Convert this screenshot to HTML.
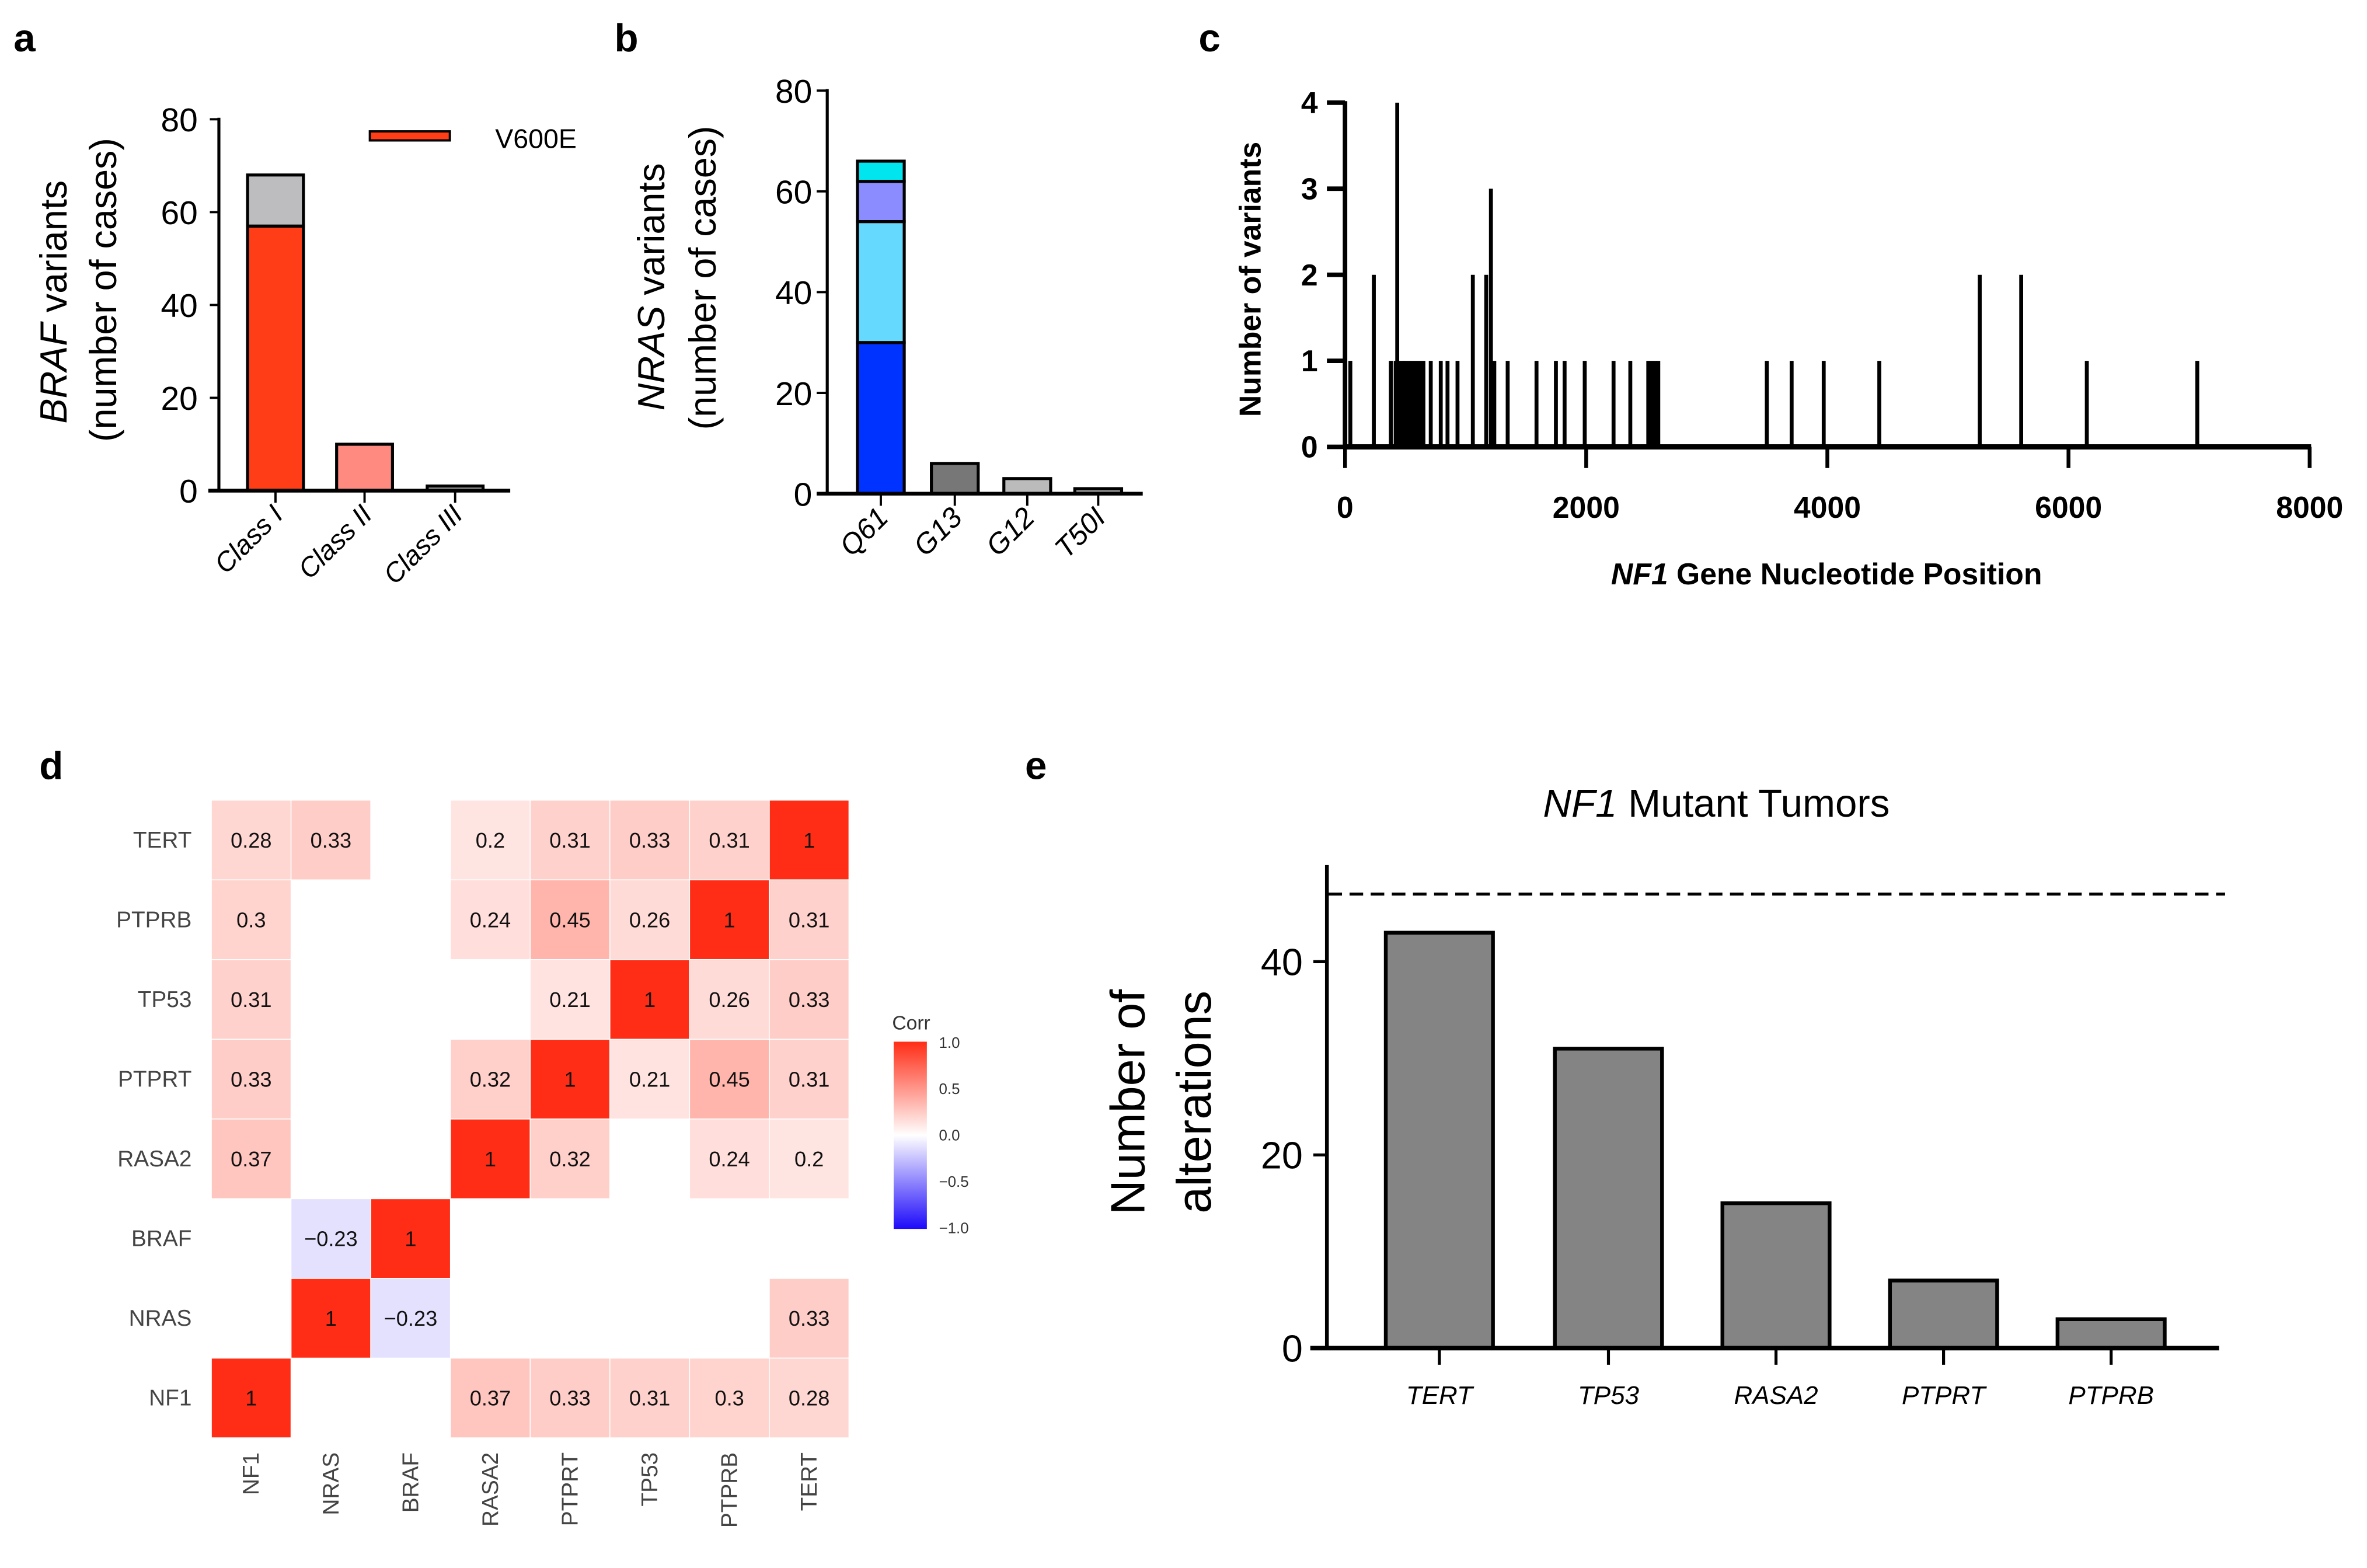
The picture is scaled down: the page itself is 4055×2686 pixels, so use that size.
<!DOCTYPE html>
<html><head><meta charset="utf-8"><style>
html,body{margin:0;padding:0;background:#fff;}
svg{display:block;font-family:"Liberation Sans",Arial,sans-serif;}
</style></head><body>
<svg id="fig" width="4055" height="2686" viewBox="0 0 1568 1038.6" xmlns="http://www.w3.org/2000/svg">
<rect width="1568" height="1039" fill="#fff"/>
<g font-weight="bold" font-size="26" fill="#000">
<text x="9" y="34">a</text>
<text x="407" y="34">b</text>
<text x="794" y="34">c</text>
<text x="26" y="516">d</text>
<text x="679" y="516">e</text>
</g>
<g id="pa"></g>
<g id="pb"></g>
<g id="pc"></g>
<g id="pd"></g>
<g id="pe"></g>
</svg>
<script>
// ---- Panel a data ----
const aCats = ["Class I","Class II","Class III"];
const aV600E = [57,0,0];
const aOther = [11,10,1];
const aTicks = [0,20,40,60,80];
// ---- Panel b data ----
const bCats = ["Q61","G13","G12","T50I"];
const bQ61Segs = [30,24,8,4];
const bOther = [0,6,3,1];
const bTicks = [0,20,40,60,80];
// ---- Panel c data ----
const cPositions = [44,239,380,420,433,450,480,500,530,560,590,620,650,711,794,850,933,1060,1171,1210,1238,1349,1588,1749,1821,1988,2227,2366,2515,2540,2570,2598,3498,3704,3970,4431,5264,5608,6152,7068];
const cCounts    = [1,2,1,1,4,1,1,1,1,1,1,1,1,1,1,1,1,2,2,3,1,1,1,1,1,1,1,1,1,1,1,1,1,1,1,1,2,2,1,1];
const cYTicks = [0,1,2,3,4];
const cXTicks = [0,2000,4000,6000,8000];
// ---- Panel d data ----
const dGenes = ["NF1","NRAS","BRAF","RASA2","PTPRT","TP53","PTPRB","TERT"];
const dRows = ["TERT","PTPRB","TP53","PTPRT","RASA2","BRAF","NRAS","NF1"];
const dMatrix = [
 [0.28,0.33,null,0.2,0.31,0.33,0.31,1],
 [0.3,null,null,0.24,0.45,0.26,1,0.31],
 [0.31,null,null,null,0.21,1,0.26,0.33],
 [0.33,null,null,0.32,1,0.21,0.45,0.31],
 [0.37,null,null,1,0.32,null,0.24,0.2],
 [null,-0.23,1,null,null,null,null,null],
 [null,1,-0.23,null,null,null,null,0.33],
 [1,null,null,0.37,0.33,0.31,0.3,0.28]
];
const dLegendTicks = ["1.0","0.5","0.0","\u22120.5","\u22121.0"];
// ---- Panel e data ----
const eCats = ["TERT","TP53","RASA2","PTPRT","PTPRB"];
const eVals = [43,31,15,7,3];
const eTicks = [0,20,40];
const eDashed = 47;

const NS="http://www.w3.org/2000/svg";
function mk(parent,tag,attrs,text){const e=document.createElementNS(NS,tag);for(const k in attrs)e.setAttribute(k,attrs[k]);if(text!==undefined)e.textContent=text;parent.appendChild(e);return e;}

// Panel a
(function(){
 const g=document.getElementById('pa');
 const y=v=>325-v*(246/80); const x0=145;
 const bx=[164,223,283], bw=37;
 aCats.forEach((c,i)=>{
  let base=0;
  if(aV600E[i]>0){const r=mk(g,'rect',{x:bx[i],y:y(aV600E[i]),width:bw,height:y(0)-y(aV600E[i]),fill:'#ff3d16',stroke:'#000','stroke-width':2});
   base=aV600E[i];}
  const fill=i===0?'#bdbdbf':(i===1?'#ff8a80':'#999');
  const r=mk(g,'rect',{x:bx[i],y:y(base+aOther[i]),width:bw,height:y(base)-y(base+aOther[i]),fill:fill,stroke:'#000','stroke-width':2});
  
  mk(g,'line',{x1:bx[i]+bw/2,x2:bx[i]+bw/2,y1:325,y2:333,stroke:'#000','stroke-width':1.5});
  const t=mk(g,'text',{x:bx[i]+bw/2+6,y:342,'font-size':18,'font-style':'italic','text-anchor':'end',transform:`rotate(-45 ${bx[i]+bw/2+6} 342)`},c);
  
 });
 mk(g,'line',{x1:x0,x2:x0,y1:78,y2:326,stroke:'#000','stroke-width':2});
 mk(g,'line',{x1:138,x2:338,y1:325,y2:325,stroke:'#000','stroke-width':2.5});
 aTicks.forEach(v=>{mk(g,'line',{x1:139,x2:x0,y1:y(v),y2:y(v),stroke:'#000','stroke-width':1.5});
  const t=mk(g,'text',{x:131,y:y(v)+8,'font-size':22,'text-anchor':'end'},v);});
 const yt=mk(g,'text',{transform:'translate(44,200) rotate(-90)','font-size':25,'text-anchor':'middle'});
 yt.innerHTML='<tspan font-style="italic">BRAF</tspan> variants';
 
 const yt2=mk(g,'text',{transform:'translate(77,192) rotate(-90)','font-size':25,'text-anchor':'middle'},'(number of cases)');
 
 const lg=mk(g,'rect',{x:245,y:87,width:53,height:6,fill:'#ff3d16',stroke:'#000','stroke-width':1.5});
 
 const lt=mk(g,'text',{x:328,y:98,'font-size':18},'V600E');
})();

// Panel b
(function(){
 const g=document.getElementById('pb');
 const y=v=>327-v*(267/80); const x0=548;
 const bx=[568,617,665,712], bw=31;
 const segCol=['#0033ff','#66d9ff','#8a8cff','#00e5ee'];
 let base=0;
 bQ61Segs.forEach((s,j)=>{const r=mk(g,'rect',{x:bx[0],y:y(base+s),width:bw,height:y(base)-y(base+s),fill:segCol[j],stroke:'#000','stroke-width':2});
  base+=s;});
 const oc=['#000','#777','#bbb','#999'];
 bCats.forEach((c,i)=>{
  if(i>0){const r=mk(g,'rect',{x:bx[i],y:y(bOther[i]),width:bw,height:y(0)-y(bOther[i]),fill:oc[i],stroke:'#000','stroke-width':2});
   }
  mk(g,'line',{x1:bx[i]+bw/2,x2:bx[i]+bw/2,y1:327,y2:335,stroke:'#000','stroke-width':1.5});
  const t=mk(g,'text',{x:bx[i]+bw/2+6,y:344,'font-size':19,'font-style':'italic','text-anchor':'end',transform:`rotate(-45 ${bx[i]+bw/2+6} 344)`},c);
  
 });
 mk(g,'line',{x1:x0,x2:x0,y1:59,y2:328,stroke:'#000','stroke-width':2});
 mk(g,'line',{x1:541,x2:757,y1:327,y2:327,stroke:'#000','stroke-width':2.5});
 bTicks.forEach(v=>{mk(g,'line',{x1:541,x2:x0,y1:y(v),y2:y(v),stroke:'#000','stroke-width':1.5});
  const t=mk(g,'text',{x:538,y:y(v)+8,'font-size':22,'text-anchor':'end'},v);});
 const yt=mk(g,'text',{transform:'translate(440,190) rotate(-90)','font-size':25,'text-anchor':'middle'});
 yt.innerHTML='<tspan font-style="italic">NRAS</tspan> variants';
 
 const yt2=mk(g,'text',{transform:'translate(474,184) rotate(-90)','font-size':25,'text-anchor':'middle'},'(number of cases)');
 
})();

// Panel c
(function(){
 const g=document.getElementById('pc');
 const x=v=>891+v*(639/8000); const y=v=>296-v*57;
 cPositions.forEach((p,i)=>{const l=mk(g,'line',{x1:x(p),x2:x(p),y1:y(0),y2:y(cCounts[i]),stroke:'#000','stroke-width':2.6});
  });
 mk(g,'line',{x1:891,x2:891,y1:67,y2:297,stroke:'#000','stroke-width':3});
 mk(g,'line',{x1:891,x2:1531,y1:296,y2:296,stroke:'#000','stroke-width':3.5});
 cYTicks.forEach(v=>{mk(g,'line',{x1:879,x2:891,y1:y(v),y2:y(v),stroke:'#000','stroke-width':3});
  const t=mk(g,'text',{x:873,y:y(v)+7,'font-size':20,'font-weight':'bold','text-anchor':'end'},v);});
 cXTicks.forEach(v=>{mk(g,'line',{x1:x(v),x2:x(v),y1:296,y2:310,stroke:'#000','stroke-width':2.5});
  const t=mk(g,'text',{x:x(v),y:343,'font-size':20,'font-weight':'bold','text-anchor':'middle'},v);});
 const xt=mk(g,'text',{x:1210,y:387,'font-size':20,'font-weight':'bold','text-anchor':'middle'});
 xt.innerHTML='<tspan font-style="italic">NF1</tspan> Gene Nucleotide Position';
 
 const yt=mk(g,'text',{transform:'translate(835,185) rotate(-90)','font-size':20,'font-weight':'bold','text-anchor':'middle'},'Number of variants');
 
})();

// Panel d
(function(){
 const g=document.getElementById('pd');
 const cx0=140, cy0=530, cs=52.8;
 function col(v){const w=[255,255,255];let c;
  if(v>=0){const r=[255,45,22];c=w.map((a,k)=>Math.round(a+(r[k]-a)*Math.pow(v,1.3)));}
  else{const b=[40,20,250];c=w.map((a,k)=>Math.round(a+(b[k]-a)*(-v)*0.55));}
  return `rgb(${c[0]},${c[1]},${c[2]})`;}
 dRows.forEach((rn,i)=>{
  const t=mk(g,'text',{x:127,y:cy0+cs*i+cs/2+5,'font-size':15,fill:'#444','text-anchor':'end'},rn);
  
  dGenes.forEach((cn,j)=>{const v=dMatrix[i][j]; if(v===null)return;
   const r=mk(g,'rect',{x:cx0+cs*j,y:cy0+cs*i,width:cs,height:cs,fill:col(v),stroke:'#fff','stroke-width':0.6});
   
   const tt=mk(g,'text',{x:cx0+cs*j+cs/2,y:cy0+cs*i+cs/2+5,'font-size':14,'text-anchor':'middle',fill:'#111'},v<0?'\u2212'+String(-v):String(v));
   
  });
 });
 dGenes.forEach((cn,j)=>{const xx=cx0+cs*j+cs/2+5;
  const t=mk(g,'text',{x:xx,y:962,'font-size':15,fill:'#444','text-anchor':'end',transform:`rotate(-90 ${xx} 962)`},cn);
  });
 const defs=mk(g,'defs',{});
 const lgr=mk(defs,'linearGradient',{id:'corrgrad',x1:0,y1:0,x2:0,y2:1});
 [[0,'rgb(255,45,22)'],[0.5,'#fff'],[1,'rgb(30,10,250)']].forEach(s=>mk(lgr,'stop',{offset:s[0],'stop-color':s[1]}));
 const lb=mk(g,'rect',{x:592,y:690,width:22,height:124,fill:'url(#corrgrad)'});
 
 const ct=mk(g,'text',{x:591,y:682,'font-size':13,fill:'#333'},'Corr');
 dLegendTicks.forEach((s,k)=>{const t=mk(g,'text',{x:622,y:694+k*30.7,'font-size':10,fill:'#333'},s);});
})();

// Panel e
(function(){
 const g=document.getElementById('pe');
 const y=v=>893-v*6.4; const bx=[918,1030,1141,1252,1363], bw=71;
 eCats.forEach((c,i)=>{
  const r=mk(g,'rect',{x:bx[i],y:y(eVals[i]),width:bw,height:y(0)-y(eVals[i]),fill:'#848484',stroke:'#000','stroke-width':2.5});
  
  mk(g,'line',{x1:bx[i]+bw/2,x2:bx[i]+bw/2,y1:893,y2:904,stroke:'#000','stroke-width':2});
  const t=mk(g,'text',{x:bx[i]+bw/2,y:930,'font-size':17,'font-style':'italic','text-anchor':'middle'},c);
  
 });
 const dl=mk(g,'line',{x1:880,x2:1474,y1:y(eDashed),y2:y(eDashed),stroke:'#000','stroke-width':2,'stroke-dasharray':'9,5'});
 
 mk(g,'line',{x1:879,x2:879,y1:573,y2:894,stroke:'#000','stroke-width':2.5});
 mk(g,'line',{x1:868,x2:1470,y1:893,y2:893,stroke:'#000','stroke-width':3});
 eTicks.forEach(v=>{mk(g,'line',{x1:870,x2:879,y1:y(v),y2:y(v),stroke:'#000','stroke-width':2});
  const t=mk(g,'text',{x:863,y:y(v)+9,'font-size':25,'text-anchor':'end'},v);});
 const ti=mk(g,'text',{x:1137,y:541,'font-size':26,'text-anchor':'middle'});
 ti.innerHTML='<tspan font-style="italic">NF1</tspan> Mutant Tumors';
 
 const y1=mk(g,'text',{transform:'translate(758,730) rotate(-90)','font-size':32,'text-anchor':'middle'},'Number of');
 
 const y2=mk(g,'text',{transform:'translate(802,730) rotate(-90)','font-size':32,'text-anchor':'middle'},'alterations');
 
})();
</script>
</body></html>
